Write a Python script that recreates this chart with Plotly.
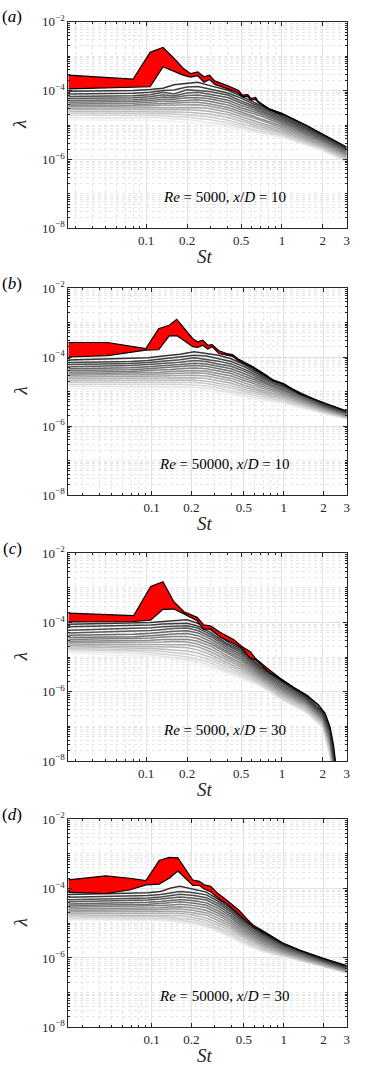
import math
import plotly.graph_objects as go

# all lambda values are log10(lambda)

# ---- (a) Re = 5000, x/D = 10 ----
st_a = [0.0267, 0.08, 0.107, 0.133, 0.16, 0.187, 0.213, 0.24, 0.267, 0.293, 0.32, 0.4,
        0.48, 0.51, 0.56, 0.59, 0.64, 0.67, 0.8, 1.0, 1.5, 2.0, 3.0]
lam1_a = [-3.55, -3.67, -2.89, -2.75, -3.06, -3.35, -3.51, -3.46, -3.60, -3.55, -3.72, -3.86,
          -4.00, -4.13, -4.12, -4.23, -4.20, -4.32, -4.52, -4.66, -5.00, -5.26, -5.63]
lam2_a = [-3.95, -3.90, -3.89, -3.31, -3.45, -3.55, -3.61, -3.57, -3.76, -3.68, -3.82, -3.95,
          -4.08, -4.18, -4.17, -4.28, -4.26, -4.35, -4.55, -4.69, -5.02, -5.27, -5.64]
st_a_modes = [0.0267, 0.08, 0.107, 0.133, 0.16, 0.2, 0.24, 0.29, 0.4, 0.5, 0.7, 1.0, 2.0, 3.0]
modes_a = [
    [-4.02, -4.00, -3.97, -3.93, -3.83, -3.80, -3.76, -3.85, -3.99, -4.16, -4.44, -4.73, -5.30, -5.67],
    [-4.10, -4.08, -4.05, -4.00, -3.98, -3.90, -3.88, -3.95, -4.07, -4.22, -4.48, -4.77, -5.33, -5.69],
    [-4.17, -4.15, -4.12, -4.05, -4.10, -3.98, -4.00, -4.03, -4.13, -4.30, -4.53, -4.81, -5.36, -5.71],
    [-4.23, -4.21, -4.18, -4.12, -4.16, -4.07, -4.05, -4.10, -4.20, -4.36, -4.58, -4.85, -5.39, -5.73],
    [-4.29, -4.27, -4.24, -4.19, -4.20, -4.14, -4.13, -4.17, -4.28, -4.43, -4.63, -4.89, -5.42, -5.76],
    [-4.34, -4.32, -4.29, -4.25, -4.25, -4.21, -4.20, -4.24, -4.35, -4.50, -4.68, -4.93, -5.45, -5.79],
    [-4.39, -4.37, -4.34, -4.31, -4.31, -4.28, -4.27, -4.31, -4.42, -4.56, -4.74, -4.98, -5.48, -5.82],
    [-4.43, -4.42, -4.39, -4.37, -4.37, -4.35, -4.34, -4.38, -4.49, -4.62, -4.80, -5.03, -5.51, -5.85],
    [-4.47, -4.46, -4.44, -4.43, -4.43, -4.42, -4.41, -4.45, -4.56, -4.69, -4.86, -5.08, -5.55, -5.88],
    [-4.51, -4.50, -4.49, -4.49, -4.49, -4.49, -4.49, -4.52, -4.63, -4.76, -4.93, -5.13, -5.58, -5.91],
    [-4.55, -4.55, -4.54, -4.55, -4.55, -4.56, -4.57, -4.60, -4.70, -4.83, -5.00, -5.18, -5.61, -5.94],
    [-4.60, -4.60, -4.60, -4.61, -4.62, -4.63, -4.65, -4.68, -4.78, -4.90, -5.06, -5.22, -5.64, -5.97],
    [-4.65, -4.65, -4.66, -4.67, -4.68, -4.70, -4.73, -4.76, -4.86, -4.97, -5.12, -5.26, -5.67, -6.00],
    [-4.71, -4.71, -4.72, -4.73, -4.75, -4.77, -4.81, -4.84, -4.94, -5.04, -5.18, -5.30, -5.70, -6.03],
    [-4.78, -4.78, -4.79, -4.80, -4.82, -4.84, -4.88, -4.92, -5.01, -5.09, -5.22, -5.33, -5.73, -6.06],
    [-4.85, -4.86, -4.87, -4.88, -4.89, -4.92, -4.95, -4.99, -5.07, -5.14, -5.25, -5.36, -5.75, -6.08],
]

# ---- (b) Re = 50000, x/D = 10 ----
st_b = [0.0234, 0.0463, 0.0904, 0.113, 0.136, 0.155, 0.205, 0.223, 0.244, 0.266, 0.287, 0.323,
        0.37, 0.41, 0.45, 0.5, 0.585, 0.74, 0.83, 1.0, 1.32, 2.0, 3.0]
lam1_b = [-3.58, -3.58, -3.755, -3.18, -3.08, -2.91, -3.47, -3.56, -3.51, -3.66, -3.64, -3.82,
          -3.90, -3.93, -4.05, -4.14, -4.28, -4.53, -4.67, -4.77, -5.06, -5.32, -5.56]
lam2_b = [-4.00, -3.96, -3.80, -3.79, -3.39, -3.38, -3.70, -3.72, -3.66, -3.77, -3.70, -3.90,
          -3.95, -3.98, -4.10, -4.19, -4.32, -4.56, -4.69, -4.79, -5.07, -5.33, -5.57]
st_b_modes = [0.0234, 0.07, 0.094, 0.117, 0.14, 0.164, 0.21, 0.26, 0.32, 0.4, 0.5, 0.7, 1.0, 2.0, 3.0]
modes_b = [
    [-4.09, -4.05, -4.02, -3.98, -3.95, -3.92, -3.85, -3.90, -3.95, -4.05, -4.22, -4.53, -4.81, -5.35, -5.58],
    [-4.16, -4.13, -4.10, -4.06, -4.04, -4.00, -3.95, -3.97, -4.05, -4.13, -4.28, -4.57, -4.84, -5.37, -5.60],
    [-4.22, -4.19, -4.16, -4.13, -4.12, -4.08, -4.02, -4.07, -4.12, -4.20, -4.35, -4.61, -4.87, -5.39, -5.61],
    [-4.28, -4.25, -4.22, -4.20, -4.18, -4.15, -4.10, -4.13, -4.20, -4.27, -4.41, -4.66, -4.90, -5.40, -5.63],
    [-4.34, -4.31, -4.28, -4.26, -4.24, -4.22, -4.18, -4.20, -4.27, -4.34, -4.48, -4.71, -4.94, -5.42, -5.64],
    [-4.39, -4.37, -4.34, -4.32, -4.30, -4.28, -4.25, -4.27, -4.34, -4.41, -4.55, -4.76, -4.97, -5.44, -5.66],
    [-4.44, -4.42, -4.39, -4.38, -4.36, -4.34, -4.32, -4.34, -4.41, -4.48, -4.62, -4.81, -5.01, -5.46, -5.67],
    [-4.49, -4.47, -4.45, -4.44, -4.42, -4.41, -4.39, -4.41, -4.48, -4.55, -4.68, -4.86, -5.05, -5.48, -5.69],
    [-4.53, -4.52, -4.50, -4.49, -4.48, -4.47, -4.46, -4.48, -4.55, -4.62, -4.75, -4.92, -5.09, -5.50, -5.70],
    [-4.58, -4.57, -4.55, -4.55, -4.54, -4.53, -4.53, -4.55, -4.62, -4.69, -4.82, -4.97, -5.13, -5.52, -5.72],
    [-4.63, -4.62, -4.61, -4.61, -4.60, -4.60, -4.60, -4.62, -4.69, -4.76, -4.88, -5.02, -5.17, -5.54, -5.73],
    [-4.68, -4.67, -4.66, -4.66, -4.66, -4.66, -4.67, -4.70, -4.76, -4.83, -4.94, -5.07, -5.20, -5.56, -5.74],
    [-4.73, -4.73, -4.72, -4.72, -4.72, -4.73, -4.74, -4.77, -4.83, -4.90, -5.00, -5.12, -5.24, -5.58, -5.76],
    [-4.79, -4.79, -4.78, -4.78, -4.79, -4.80, -4.81, -4.84, -4.90, -4.97, -5.06, -5.17, -5.28, -5.60, -5.77],
    [-4.85, -4.85, -4.85, -4.85, -4.86, -4.87, -4.88, -4.91, -4.97, -5.03, -5.12, -5.22, -5.32, -5.62, -5.79],
    [-4.92, -4.92, -4.92, -4.92, -4.93, -4.94, -4.96, -4.98, -5.04, -5.09, -5.17, -5.26, -5.35, -5.64, -5.80],
]

# ---- (c) Re = 5000, x/D = 30 ----
st_c = [0.0267, 0.081, 0.108, 0.133, 0.16, 0.19, 0.237, 0.266, 0.30, 0.35, 0.44, 0.51,
        0.585, 0.636, 0.78, 0.97, 1.22, 1.53, 1.86, 2.08, 2.26, 2.4, 2.55]
lam1_c = [-3.73, -3.80, -2.96, -2.82, -3.40, -3.69, -3.85, -4.07, -4.10, -4.28, -4.49, -4.70,
          -4.84, -5.03, -5.32, -5.61, -5.87, -6.10, -6.38, -6.62, -7.01, -7.54, -8.40]
lam2_c = [-3.98, -3.97, -3.93, -3.62, -3.61, -3.75, -3.95, -4.20, -4.18, -4.42, -4.60, -4.75,
          -5.03, -5.07, -5.40, -5.64, -5.89, -6.12, -6.40, -6.64, -7.03, -7.56, -8.40]
st_c_modes = [0.0267, 0.081, 0.108, 0.133, 0.16, 0.2, 0.24, 0.3, 0.4, 0.5, 0.7, 1.0, 1.5, 2.0, 2.25, 2.5]
modes_c = [
    [-4.05, -4.02, -4.00, -3.97, -3.95, -3.92, -4.02, -4.22, -4.56, -4.77, -5.28, -5.69, -6.13, -6.58, -7.05, -8.20],
    [-4.12, -4.09, -4.07, -4.04, -4.03, -4.02, -4.10, -4.29, -4.62, -4.82, -5.32, -5.72, -6.16, -6.61, -7.10, -8.25],
    [-4.22, -4.18, -4.15, -4.12, -4.10, -4.09, -4.16, -4.35, -4.67, -4.87, -5.36, -5.76, -6.19, -6.64, -7.15, -8.30],
    [-4.30, -4.26, -4.23, -4.20, -4.17, -4.16, -4.23, -4.41, -4.73, -4.93, -5.40, -5.80, -6.22, -6.67, -7.20, -8.35],
    [-4.37, -4.34, -4.31, -4.28, -4.25, -4.24, -4.30, -4.48, -4.79, -4.99, -5.44, -5.84, -6.25, -6.70, -7.25, -8.40],
    [-4.43, -4.41, -4.38, -4.35, -4.33, -4.32, -4.38, -4.55, -4.85, -5.05, -5.48, -5.88, -6.28, -6.73, -7.30, -8.45],
    [-4.49, -4.47, -4.45, -4.42, -4.40, -4.40, -4.46, -4.62, -4.91, -5.11, -5.52, -5.92, -6.31, -6.76, -7.35, -8.50],
    [-4.54, -4.53, -4.51, -4.49, -4.48, -4.48, -4.54, -4.69, -4.97, -5.17, -5.56, -5.96, -6.34, -6.79, -7.40, -8.55],
    [-4.58, -4.58, -4.57, -4.56, -4.55, -4.56, -4.62, -4.77, -5.03, -5.23, -5.60, -6.00, -6.37, -6.82, -7.45, -8.60],
    [-4.62, -4.63, -4.63, -4.63, -4.63, -4.64, -4.70, -4.85, -5.09, -5.29, -5.64, -6.04, -6.40, -6.85, -7.50, -8.65],
    [-4.66, -4.68, -4.69, -4.70, -4.71, -4.73, -4.79, -4.93, -5.16, -5.35, -5.68, -6.08, -6.44, -6.88, -7.55, -8.70],
    [-4.70, -4.73, -4.75, -4.77, -4.79, -4.82, -4.88, -5.01, -5.23, -5.41, -5.72, -6.12, -6.48, -6.91, -7.60, -8.75],
    [-4.74, -4.78, -4.81, -4.84, -4.87, -4.91, -4.97, -5.09, -5.30, -5.47, -5.76, -6.16, -6.52, -6.95, -7.70, -8.80],
    [-4.78, -4.83, -4.87, -4.91, -4.94, -4.99, -5.06, -5.17, -5.37, -5.52, -5.79, -6.19, -6.55, -6.98, -7.75, -8.85],
    [-4.83, -4.89, -4.93, -4.97, -5.00, -5.06, -5.13, -5.24, -5.43, -5.57, -5.82, -6.22, -6.58, -7.02, -7.80, -8.90],
    [-4.88, -4.95, -4.98, -5.02, -5.06, -5.12, -5.20, -5.30, -5.48, -5.62, -5.85, -6.25, -6.60, -7.05, -7.90, -9.00],
]

# ---- (d) Re = 50000, x/D = 30 ----
st_d = [0.0234, 0.045, 0.068, 0.0906, 0.114, 0.136, 0.158, 0.205, 0.23, 0.25, 0.28, 0.32,
        0.367, 0.41, 0.46, 0.52, 0.585, 0.70, 0.83, 1.0, 1.32, 2.0, 3.0]
lam1_d = [-3.75, -3.63, -3.70, -3.77, -3.19, -3.10, -3.11, -3.75, -3.79, -3.89, -3.93, -4.15,
          -4.32, -4.48, -4.63, -4.85, -5.05, -5.22, -5.40, -5.58, -5.77, -6.01, -6.22]
lam2_d = [-4.11, -4.14, -4.04, -3.89, -3.87, -3.70, -3.49, -3.91, -3.91, -4.01, -4.09, -4.28,
          -4.43, -4.58, -4.74, -4.93, -5.10, -5.26, -5.42, -5.59, -5.78, -6.02, -6.23]
st_d_modes = [0.0234, 0.07, 0.094, 0.117, 0.14, 0.164, 0.21, 0.26, 0.32, 0.4, 0.5, 0.7, 1.0, 2.0, 3.0]
modes_d = [
    [-4.17, -4.13, -4.12, -4.08, -3.98, -3.93, -4.02, -4.10, -4.31, -4.58, -4.90, -5.29, -5.61, -6.04, -6.25],
    [-4.25, -4.22, -4.20, -4.17, -4.12, -4.08, -4.12, -4.18, -4.37, -4.63, -4.94, -5.32, -5.63, -6.06, -6.27],
    [-4.32, -4.29, -4.27, -4.24, -4.20, -4.16, -4.20, -4.26, -4.43, -4.68, -4.98, -5.35, -5.66, -6.08, -6.28],
    [-4.38, -4.35, -4.33, -4.30, -4.27, -4.24, -4.28, -4.33, -4.50, -4.74, -5.03, -5.39, -5.68, -6.09, -6.30],
    [-4.44, -4.41, -4.39, -4.37, -4.34, -4.31, -4.35, -4.41, -4.57, -4.80, -5.08, -5.43, -5.71, -6.11, -6.31],
    [-4.49, -4.47, -4.45, -4.43, -4.41, -4.38, -4.42, -4.48, -4.64, -4.86, -5.13, -5.47, -5.74, -6.12, -6.33],
    [-4.54, -4.52, -4.51, -4.49, -4.47, -4.45, -4.49, -4.55, -4.71, -4.92, -5.18, -5.51, -5.77, -6.14, -6.34],
    [-4.59, -4.57, -4.56, -4.55, -4.53, -4.52, -4.56, -4.63, -4.78, -4.98, -5.23, -5.55, -5.80, -6.15, -6.35],
    [-4.63, -4.62, -4.61, -4.60, -4.59, -4.59, -4.63, -4.70, -4.85, -5.04, -5.28, -5.59, -5.83, -6.17, -6.37],
    [-4.67, -4.67, -4.66, -4.66, -4.65, -4.65, -4.70, -4.77, -4.92, -5.10, -5.33, -5.63, -5.85, -6.18, -6.38],
    [-4.71, -4.71, -4.71, -4.71, -4.71, -4.72, -4.77, -4.85, -4.99, -5.16, -5.38, -5.67, -5.88, -6.20, -6.39],
    [-4.75, -4.76, -4.76, -4.76, -4.77, -4.78, -4.84, -4.92, -5.06, -5.22, -5.43, -5.71, -5.90, -6.21, -6.40],
    [-4.79, -4.80, -4.81, -4.81, -4.83, -4.85, -4.90, -4.99, -5.12, -5.28, -5.49, -5.75, -5.92, -6.22, -6.41],
    [-4.83, -4.84, -4.85, -4.86, -4.88, -4.90, -4.96, -5.05, -5.18, -5.34, -5.54, -5.78, -5.94, -6.23, -6.42],
    [-4.87, -4.88, -4.89, -4.90, -4.92, -4.94, -5.00, -5.09, -5.22, -5.38, -5.58, -5.81, -5.96, -6.24, -6.43],
    [-4.90, -4.91, -4.92, -4.93, -4.95, -4.97, -5.03, -5.12, -5.25, -5.42, -5.62, -5.84, -5.97, -6.25, -6.44],
]

labels = ['a', 'b', 'c', 'd']
notes = ['<i>Re</i> = 5000, <i>x</i>/<i>D</i> = 10',
         '<i>Re</i> = 50000, <i>x</i>/<i>D</i> = 10',
         '<i>Re</i> = 5000, <i>x</i>/<i>D</i> = 30',
         '<i>Re</i> = 50000, <i>x</i>/<i>D</i> = 30']
st_min = [0.0267, 0.0234, 0.0267, 0.0234]
st_max = 3.0
xticks = [0.1, 0.2, 0.5, 1, 2, 3]

panels = [
    (st_a, lam1_a, lam2_a, st_a_modes, modes_a),
    (st_b, lam1_b, lam2_b, st_b_modes, modes_b),
    (st_c, lam1_c, lam2_c, st_c_modes, modes_c),
    (st_d, lam1_d, lam2_d, st_d_modes, modes_d),
]

W, H = 382, 1066
X0, X1 = 68.3, 346.7  # plot area left/right, px
boxes = [(21.7, 228.3), (288.0, 495.0), (553.3, 761.0), (819.3, 1027.3)]  # top/bottom, px
SERIF = 'Liberation Serif'
AX = '#262626'


def lin(v):
    return [10 ** t for t in v]


def py(p):
    return 1 - p / H


fig = go.Figure()
layout = {}
annotations = []

x_minor = [0.03, 0.04, 0.05, 0.06, 0.07, 0.08, 0.09, 0.3, 0.4, 0.6, 0.7, 0.8, 0.9]
y_minor = [k * 10.0 ** e for e in range(-8, -2) for k in range(1, 10) if not (k == 1 and e % 2 == 0)]

for i, (st, l1, l2, stm, modes) in enumerate(panels):
    n = '' if i == 0 else str(i + 1)
    xa, ya = 'x' + n, 'y' + n

    # grey modes, lightest first so dark ones sit on top
    nm = len(modes)
    for j in reversed(range(nm)):
        g = int(52 + (240 - 52) * j / (nm - 1))
        fig.add_trace(go.Scatter(x=stm, y=lin(modes[j]), mode='lines',
                                 line=dict(color=f'rgb({g},{g},{g})', width=1.5),
                                 xaxis=xa, yaxis=ya, hoverinfo='skip'))

    # red band between the two leading modes
    fig.add_trace(go.Scatter(x=st + st[::-1], y=lin(l1) + lin(l2[::-1]), mode='lines',
                             fill='toself', fillcolor='#ff0000',
                             line=dict(color='black', width=1.2),
                             xaxis=xa, yaxis=ya, hoverinfo='skip'))

    top, bot = boxes[i]
    common = dict(showline=True, linecolor=AX, linewidth=1, mirror='allticks',
                  ticks='inside', ticklen=4, tickcolor=AX, tickwidth=1,
                  showgrid=True, gridcolor='#e2e2e2', gridwidth=1, zeroline=False,
                  automargin=False, tickfont=dict(family=SERIF, size=13, color=AX))
    layout['xaxis' + n] = dict(
        common, type='log', range=[math.log10(st_min[i]), math.log10(st_max)],
        domain=[X0 / W, X1 / W], anchor=ya,
        tickmode='array', tickvals=xticks, ticktext=[str(v) for v in xticks],
        minor=dict(tickmode='array', tickvals=x_minor, ticks='inside', ticklen=2,
                   tickcolor=AX, showgrid=True, gridcolor='#e6e6e6', griddash='dot'))
    layout['yaxis' + n] = dict(
        common, type='log', range=[-8, -2], domain=[py(bot), py(top)], anchor=xa,
        tickmode='array', tickvals=[1e-8, 1e-6, 1e-4, 1e-2],
        ticktext=['10<sup>\u22128</sup>', '10<sup>\u22126</sup>',
                  '10<sup>\u22124</sup>', '10<sup>\u22122</sup>'],
        minor=dict(tickmode='array', tickvals=y_minor, ticks='inside', ticklen=2,
                   tickcolor=AX, showgrid=True, gridcolor='#e6e6e6', griddash='dot'))

    annotations += [
        dict(text=f'(<i>{labels[i]}</i>)', x=12 / W, y=py(top - 5), xref='paper', yref='paper',
             showarrow=False, xanchor='center', yanchor='middle',
             font=dict(family=SERIF, size=17, color='black')),
        dict(text='<i>\u03bb</i>', x=20 / W, y=py((top + bot) / 2), xref='paper', yref='paper',
             showarrow=False, textangle=-90, xanchor='center', yanchor='middle',
             font=dict(family=SERIF, size=19, color=AX)),
        dict(text='<i>St</i>', x=205 / W, y=py(bot + 28), xref='paper', yref='paper',
             showarrow=False, xanchor='center', yanchor='middle',
             font=dict(family=SERIF, size=19, color=AX)),
        dict(text=notes[i], x=0.56, y=0.15, xref=xa + ' domain', yref=ya + ' domain',
             showarrow=False, xanchor='center', yanchor='middle',
             font=dict(family=SERIF, size=15, color='black')),
    ]

fig.update_layout(
    width=W, height=H, margin=dict(l=0, r=0, t=0, b=0),
    template='none', paper_bgcolor='white', plot_bgcolor='white',
    showlegend=False, annotations=annotations, **layout)

fig.write_html("out.html", config={'displayModeBar': False},
               post_script="document.body.style.margin='0';")
